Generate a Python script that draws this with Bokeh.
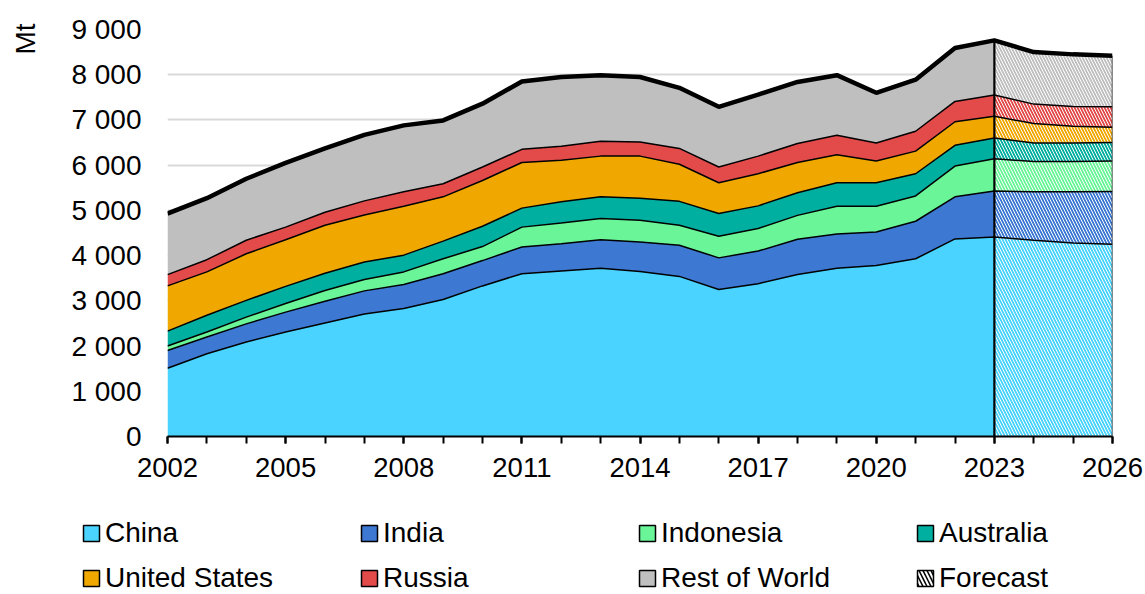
import numpy as np
from bokeh.plotting import figure
from bokeh.layouts import column
from bokeh.models import (Range1d, FixedTicker, CustomJSTickFormatter, Legend,
                          LegendItem, Title)
from bokeh.embed import file_html
from bokeh.resources import INLINE

# ---------------- data (Mt) ----------------
years = [2002, 2003, 2004, 2005, 2006, 2007, 2008, 2009, 2010, 2011, 2012, 2013,
         2014, 2015, 2016, 2017, 2018, 2019, 2020, 2021, 2022, 2023, 2024, 2025, 2026]
forecast_start = 2023

china = [1510, 1830, 2090, 2310, 2510, 2710, 2830, 3030, 3330, 3600, 3660, 3720,
         3650, 3540, 3250, 3380, 3580, 3720, 3780, 3930, 4370, 4410, 4340, 4280, 4250]
india = [390, 370, 400, 440, 480, 510, 530, 570, 560, 590, 600, 630,
         650, 690, 700, 720, 780, 760, 740, 830, 930, 1020, 1070, 1130, 1170]
indonesia = [100, 110, 150, 190, 240, 250, 280, 330, 310, 440, 460, 470,
             480, 440, 480, 500, 530, 610, 570, 560, 680, 710, 670, 670, 670]
australia = [330, 370, 370, 380, 380, 390, 370, 390, 450, 420, 470, 480,
             490, 530, 500, 500, 500, 520, 520, 490, 460, 460, 410, 410, 410]
united_states = [1000, 960, 1030, 1030, 1060, 1040, 1080, 980, 1010, 1010, 920, 900,
                 930, 820, 680, 710, 670, 620, 480, 500, 520, 480, 430, 370, 340]
russia = [250, 270, 300, 280, 290, 310, 320, 290, 300, 290, 310, 330,
          310, 350, 350, 390, 420, 430, 400, 440, 450, 470, 430, 440, 450]
rest_of_world = [1350, 1360, 1360, 1420, 1410, 1460, 1470, 1400, 1400, 1500, 1530, 1460,
                 1440, 1340, 1330, 1360, 1360, 1330, 1110, 1140, 1180, 1210, 1150, 1150, 1130]

names = ["China", "India", "Indonesia", "Australia", "United States", "Russia", "Rest of World"]
series = [china, india, indonesia, australia, united_states, russia, rest_of_world]
colors = ["#4AD3FF", "#3D79D3", "#6AF598", "#00AFA0", "#F0A800", "#E34B4B", "#BFBFBF"]

x_ticks = [2002, 2005, 2008, 2011, 2014, 2017, 2020, 2023, 2026]
y_ticks = [0, 1000, 2000, 3000, 4000, 5000, 6000, 7000, 8000, 9000]
unit = "Mt"

FONT = "Liberation Sans"
FS = "28px"
W = 1145

# ---------------- main figure ----------------
p = figure(width=W, height=487, output_backend="svg", toolbar_location=None,
           x_range=Range1d(years[0], years[-1]), y_range=Range1d(0, 9000),
           min_border_left=167, min_border_right=33, min_border_top=29,
           min_border_bottom=51)
p.frame_align = False
p.outline_line_color = None

p.xgrid.grid_line_color = None
p.ygrid.grid_line_color = "#D9D9D9"
p.ygrid.grid_line_width = 2
p.ygrid.ticker = FixedTicker(ticks=y_ticks)

xa = p.xaxis[0]
xa.ticker = FixedTicker(ticks=x_ticks, minor_ticks=years)
xa.axis_line_color = "black"
xa.axis_line_width = 2
xa.major_tick_line_color = "black"
xa.major_tick_line_width = 2
xa.major_tick_in = 0
xa.major_tick_out = 7
xa.minor_tick_line_color = "black"
xa.minor_tick_line_width = 2
xa.minor_tick_in = 0
xa.minor_tick_out = 7
xa.major_label_text_font = FONT
xa.major_label_text_font_size = "27.5px"
xa.major_label_text_color = "black"
xa.major_label_standoff = 14

ya = p.yaxis[0]
ya.ticker = FixedTicker(ticks=y_ticks)
ya.formatter = CustomJSTickFormatter(
    code="return Math.round(tick).toString().replace(/\\B(?=(\\d{3})+(?!\\d))/g, ' ');")
ya.axis_line_color = None
ya.major_tick_line_color = None
ya.minor_tick_line_color = None
ya.major_tick_out = 0
ya.major_tick_in = 0
ya.major_label_text_font = FONT
ya.major_label_text_font_size = FS
ya.major_label_text_color = "black"
ya.major_label_standoff = 26
# blank axis label only reserves room so that the unit sits at the far left
ya.axis_label = " "
ya.axis_label_text_font_size = "1px"
ya.axis_label_standoff = 24

# unit label, at the top of the left side
p.add_layout(Title(text=unit, align="right", vertical_align="bottom",
                   text_font=FONT, text_font_size=FS, text_font_style="normal",
                   text_color="black", standoff=0, offset=-6), "left")

# ---------------- stacked areas ----------------
vals = np.array(series, dtype=float)
tops = np.cumsum(vals, axis=0)
bottoms = np.vstack([np.zeros(len(years)), tops[:-1]])

hist_idx = [i for i, y in enumerate(years) if y <= forecast_start]
fc_idx = [i for i, y in enumerate(years) if y >= forecast_start]
hist_x = [years[i] for i in hist_idx]
fc_x = [years[i] for i in fc_idx]

for k in range(len(series)):
    p.varea(x=hist_x, y1=bottoms[k][hist_idx], y2=tops[k][hist_idx],
            fill_color=colors[k])
    p.varea(x=fc_x, y1=bottoms[k][fc_idx], y2=tops[k][fc_idx],
            fill_color=colors[k], hatch_pattern="\\", hatch_color="white",
            hatch_scale=6, hatch_weight=1.0)

for k in range(len(series) - 1):
    p.line(years, tops[k], line_color="black", line_width=1.5)

fi = years.index(forecast_start)
p.segment(x0=[years[-1]], y0=[0], x1=[years[-1]], y1=[tops[-1][-1]],
          line_color="#222222", line_width=1.5)
p.segment(x0=[forecast_start], y0=[0], x1=[forecast_start], y1=[tops[-1][fi]],
          line_color="black", line_width=2.2)
p.line(years, tops[-1], line_color="black", line_width=4.5)

# ---------------- legend (own strip below) ----------------
lg = figure(width=W, height=107, output_backend="svg", toolbar_location=None,
            x_range=Range1d(0, 1), y_range=Range1d(0, 1),
            min_border=0, x_axis_location=None, y_axis_location=None)
lg.frame_align = False
lg.outline_line_color = None
lg.grid.visible = False

nan = float("nan")
items = []
for name, c in zip(names, colors):
    r = lg.quad(left=[nan], right=[nan], top=[nan], bottom=[nan], fill_color=c,
                line_color="black", line_width=1.5)
    items.append(LegendItem(label=name, renderers=[r]))
rf = lg.quad(left=[nan], right=[nan], top=[nan], bottom=[nan], fill_color="white",
             line_color="black", line_width=1.5, hatch_pattern="\\",
             hatch_color="black", hatch_scale=8, hatch_weight=1.5)
items.append(LegendItem(label="Forecast", renderers=[rf]))

legend = Legend(items=items, orientation="horizontal", ncols=4,
                location=(81, 0), padding=0, margin=0, spacing=13,
                glyph_width=20, glyph_height=20, label_standoff=4,
                label_width=241, label_height=30,
                label_text_font=FONT, label_text_font_size=FS,
                label_text_color="black", border_line_color=None,
                background_fill_alpha=0)
lg.add_layout(legend)

layout = column(p, lg, spacing=0)
open("out.html", "w").write(file_html(layout, INLINE))
